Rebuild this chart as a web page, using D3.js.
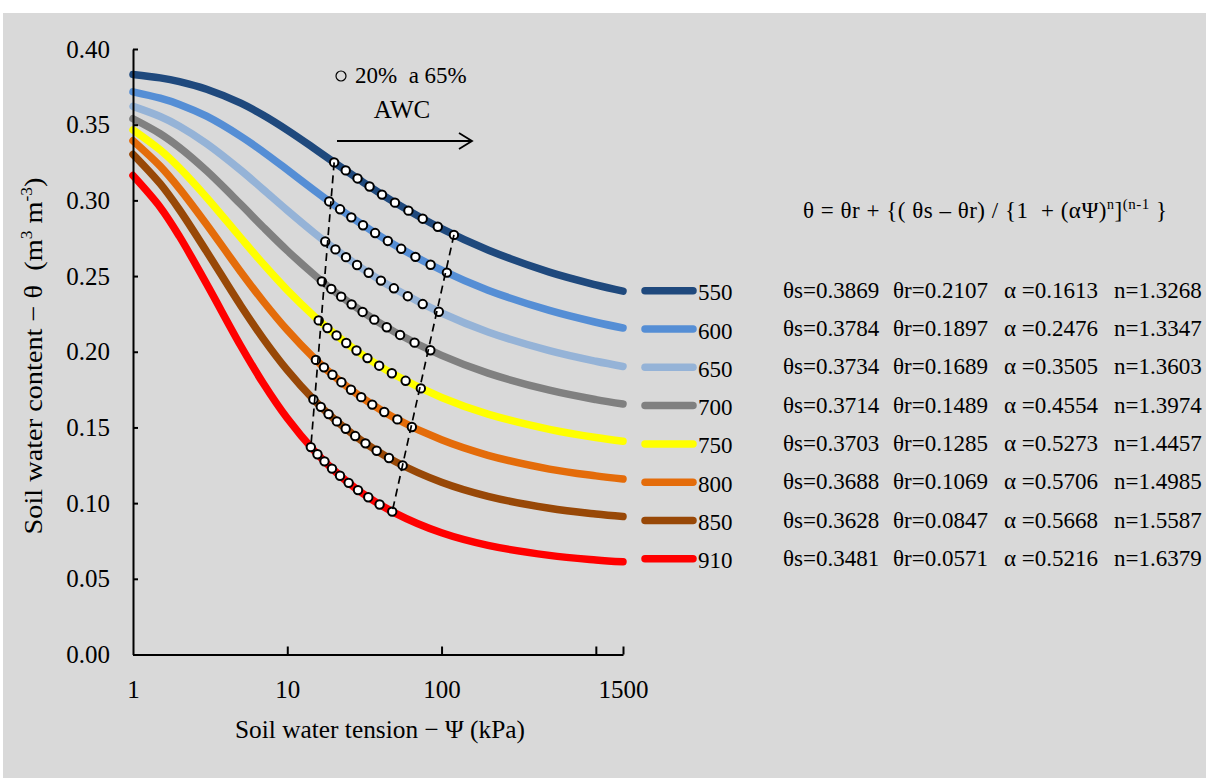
<!DOCTYPE html>
<html><head><meta charset="utf-8">
<script src="https://cdn.jsdelivr.net/npm/d3@7"></script>
<style>
body{margin:0;background:#fff;}
svg{display:block;}
text{white-space:pre;fill:#000;font-family:"Liberation Serif","Times New Roman",serif;}
</style></head><body>
<svg id="chart" width="1206" height="781"></svg>
<script>
// ---- data ----
const psi = [1, 1.5, 2, 3, 5, 7, 10, 15, 20, 30, 50, 100, 200, 500, 1000, 1500];
const theta550 = [0.3832, 0.3809, 0.3784, 0.3734, 0.3642, 0.3562, 0.3464, 0.3342, 0.3253, 0.3130, 0.2985, 0.2813, 0.2672, 0.2526, 0.2442, 0.2400];
const theta600 = [0.3717, 0.3675, 0.3634, 0.3556, 0.3423, 0.3320, 0.3202, 0.3065, 0.2971, 0.2846, 0.2703, 0.2539, 0.2407, 0.2273, 0.2195, 0.2157];
const theta650 = [0.3621, 0.3554, 0.3490, 0.3375, 0.3199, 0.3071, 0.2934, 0.2784, 0.2685, 0.2556, 0.2414, 0.2256, 0.2131, 0.2007, 0.1937, 0.1903];
const theta700 = [0.3539, 0.3440, 0.3349, 0.3195, 0.2973, 0.2822, 0.2668, 0.2507, 0.2402, 0.2271, 0.2129, 0.1976, 0.1859, 0.1746, 0.1684, 0.1655];
const theta750 = [0.3466, 0.3333, 0.3214, 0.3019, 0.2752, 0.2579, 0.2407, 0.2233, 0.2123, 0.1987, 0.1846, 0.1698, 0.1588, 0.1487, 0.1433, 0.1409];
const theta800 = [0.3394, 0.3226, 0.3078, 0.2841, 0.2527, 0.2332, 0.2143, 0.1955, 0.1840, 0.1702, 0.1561, 0.1418, 0.1316, 0.1225, 0.1180, 0.1159];
const theta850 = [0.3304, 0.3110, 0.2938, 0.2662, 0.2304, 0.2085, 0.1878, 0.1678, 0.1558, 0.1416, 0.1275, 0.1138, 0.1045, 0.0966, 0.0928, 0.0911];
const theta910 = [0.3164, 0.2955, 0.2762, 0.2448, 0.2038, 0.1790, 0.1560, 0.1344, 0.1218, 0.1072, 0.0934, 0.0804, 0.0721, 0.0655, 0.0625, 0.0612];

// AWC markers (20% .. 65%)
const mPsi550 = [20.13, 23.93, 28.53, 34.15, 41.12, 49.87, 61.0, 75.5, 94.5, 120.3];
const mTh550  = [0.3251, 0.3198, 0.3145, 0.3092, 0.3038, 0.2985, 0.2932, 0.2879, 0.2826, 0.2772];
const mPsi600 = [18.69, 21.99, 26.01, 30.96, 37.10, 44.85, 54.75, 67.7, 84.9, 108.3];
const mTh600  = [0.2993, 0.2941, 0.2888, 0.2836, 0.2784, 0.2732, 0.2680, 0.2627, 0.2575, 0.2523];
const mPsi650 = [17.62, 20.52, 24.02, 28.33, 33.69, 40.45, 49.12, 60.4, 75.5, 96.0];
const mTh650  = [0.2728, 0.2676, 0.2625, 0.2573, 0.2522, 0.2470, 0.2419, 0.2367, 0.2315, 0.2264];
const mPsi700 = [16.75, 19.29, 22.36, 26.12, 30.78, 36.64, 44.12, 53.85, 66.84, 84.6];
const mTh700  = [0.2465, 0.2415, 0.2364, 0.2313, 0.2263, 0.2212, 0.2162, 0.2111, 0.2060, 0.2010];
const mPsi750 = [15.98, 18.20, 20.86, 24.11, 28.09, 33.08, 39.42, 47.63, 58.5, 73.4];
const mTh750  = [0.2207, 0.2157, 0.2108, 0.2058, 0.2008, 0.1958, 0.1908, 0.1858, 0.1808, 0.1758];
const mPsi800 = [15.33, 17.28, 19.62, 22.43, 25.88, 30.15, 35.55, 42.52, 51.7, 64.2];
const mTh800  = [0.1946, 0.1897, 0.1848, 0.1799, 0.1749, 0.1700, 0.1651, 0.1602, 0.1553, 0.1503];
const mPsi850 = [14.77, 16.49, 18.52, 20.96, 23.92, 27.56, 32.13, 37.97, 45.63, 55.96];
const mTh850  = [0.1685, 0.1636, 0.1588, 0.1540, 0.1491, 0.1443, 0.1395, 0.1346, 0.1298, 0.1249];
const mPsi910 = [14.21, 15.69, 17.43, 19.49, 21.97, 25.00, 28.74, 33.50, 39.67, 47.89];
const mTh910  = [0.1370, 0.1323, 0.1276, 0.1228, 0.1181, 0.1134, 0.1086, 0.1039, 0.0991, 0.0944];

const seriesNames = ["550", "600", "650", "700", "750", "800", "850", "910"];
const seriesColors = ["#1f497d", "#558ed5", "#95b3d7", "#808080", "#ffff00", "#e46c0a", "#984807", "#ff0000"];
const thetaS = ["0.3869", "0.3784", "0.3734", "0.3714", "0.3703", "0.3688", "0.3628", "0.3481"];
const thetaR = ["0.2107", "0.1897", "0.1689", "0.1489", "0.1285", "0.1069", "0.0847", "0.0571"];
const alphaP = ["0.1613", "0.2476", "0.3505", "0.4554", "0.5273", "0.5706", "0.5668", "0.5216"];
const nP     = ["1.3268", "1.3347", "1.3603", "1.3974", "1.4457", "1.4985", "1.5587", "1.6379"];

const xTickMarks = [10, 100, 1000, 1500];
const xTickLabels = [1, 10, 100, 1500];
const yTicks = [0, 0.05, 0.10, 0.15, 0.20, 0.25, 0.30, 0.35, 0.40];

// ---- build ----
const curves = [theta550, theta600, theta650, theta700, theta750, theta800, theta850, theta910];
const mPsi = [mPsi550, mPsi600, mPsi650, mPsi700, mPsi750, mPsi800, mPsi850, mPsi910];
const mTh = [mTh550, mTh600, mTh650, mTh700, mTh750, mTh800, mTh850, mTh910];

const svg = d3.select("#chart");
svg.append("rect").attr("x", 3).attr("y", 13).attr("width", 1203).attr("height", 765).attr("fill", "#d9d9d9");

const x = d3.scaleLog().domain([1, 1500]).range([133, 623]);
const y = d3.scaleLinear().domain([0, 0.40]).range([654.5, 49]);

// curves
const line = d3.line().x(d => x(d[0])).y(d => y(d[1])).curve(d3.curveCatmullRom.alpha(0.5));
const gCurves = svg.append("g");
curves.forEach((c, i) => {
  gCurves.append("path")
    .attr("d", line(psi.map((p, j) => [p, c[j]])))
    .attr("fill", "none").attr("stroke", seriesColors[i])
    .attr("stroke-width", 7.5).attr("stroke-linecap", "round");
});

// axes
const yAxis = d3.axisLeft(y).tickValues(yTicks).tickFormat(d3.format(".2f"))
  .tickSizeInner(-5).tickSizeOuter(0).tickPadding(23);
const gy = svg.append("g").attr("transform", "translate(133,0)").call(yAxis);
gy.selectAll("text").attr("font-size", 25);
gy.selectAll("line,path").attr("stroke", "#000").attr("stroke-width", 2);

const xAxis = d3.axisBottom(x).tickValues(xTickMarks).tickFormat("")
  .tickSizeInner(-8).tickSizeOuter(0);
const gx = svg.append("g").attr("transform", "translate(0,654.5)").call(xAxis);
gx.selectAll("line,path").attr("stroke", "#000").attr("stroke-width", 2);

const xLab = d3.axisBottom(x).tickValues(xTickLabels).tickFormat(d3.format("d"))
  .tickSize(0).tickPadding(26);
const gxl = svg.append("g").attr("transform", "translate(0,654.5)").call(xLab);
gxl.select(".domain").remove();
gxl.selectAll("text").attr("font-size", 25);

// markers
const gM = svg.append("g");
mPsi.forEach((arr, i) => {
  arr.forEach((p, j) => {
    gM.append("circle").attr("cx", x(p)).attr("cy", y(mTh[i][j])).attr("r", 4.2)
      .attr("fill", "#fff").attr("stroke", "#000").attr("stroke-width", 2);
  });
});

// dashed AWC boundaries
const first = mPsi.map((a, i) => [a[0], mTh[i][0]]);
const last = mPsi.map((a, i) => [a[a.length - 1], mTh[i][a.length - 1]]);
[first, last].forEach(pts => {
  const a = pts[0], b = pts[pts.length - 1];
  svg.append("line").attr("x1", x(a[0])).attr("y1", y(a[1])).attr("x2", x(b[0])).attr("y2", y(b[1]))
    .attr("stroke", "#000").attr("stroke-width", 1.7).attr("stroke-dasharray", "8,5");
});

// legend + parameters
const legY0 = 290.7, legDy = 38.3;
seriesNames.forEach((nm, i) => {
  const ly = legY0 + i * legDy;
  svg.append("line").attr("x1", 645).attr("x2", 693).attr("y1", ly).attr("y2", ly)
    .attr("stroke", seriesColors[i]).attr("stroke-width", 7.5).attr("stroke-linecap", "round");
  svg.append("text").attr("x", 698).attr("y", ly + 9.5).attr("font-size", 23).text(nm);
  const ty = ly + 7;
  svg.append("text").attr("x", 783).attr("y", ty).attr("font-size", 23).text("θs=" + thetaS[i]);
  svg.append("text").attr("x", 893).attr("y", ty).attr("font-size", 23).text("θr=" + thetaR[i]);
  svg.append("text").attr("x", 1004).attr("y", ty).attr("font-size", 23).text("α =" + alphaP[i]);
  svg.append("text").attr("x", 1114).attr("y", ty).attr("font-size", 23).text("n=" + nP[i]);
});

// formula
const f = svg.append("text").attr("x", 803).attr("y", 218).attr("font-size", 23)
  .attr("textLength", 364).attr("lengthAdjust", "spacing");
f.append("tspan").text("θ = θr + {( θs – θr) / {1  + (αΨ)");
f.append("tspan").attr("font-size", 14).attr("dy", -9).text("n");
f.append("tspan").attr("dy", 9).text("]");
f.append("tspan").attr("font-size", 15).attr("dy", -9).text("(n-1");
f.append("tspan").attr("dy", 9).text(" }");

// annotation
svg.append("circle").attr("cx", 341).attr("cy", 76).attr("r", 5).attr("fill", "none")
  .attr("stroke", "#000").attr("stroke-width", 1.2);
svg.append("text").attr("x", 355).attr("y", 83).attr("font-size", 23).text("20%  a 65%");
svg.append("text").attr("x", 402).attr("y", 118).attr("font-size", 25).attr("text-anchor", "middle").text("AWC");
svg.append("line").attr("x1", 337).attr("x2", 471).attr("y1", 141).attr("y2", 141)
  .attr("stroke", "#000").attr("stroke-width", 1.8);
svg.append("path").attr("d", "M459,133 L472,141 L459,149").attr("fill", "none")
  .attr("stroke", "#000").attr("stroke-width", 1.8);

// axis titles
svg.append("text").attr("x", 380).attr("y", 738).attr("font-size", 26).attr("text-anchor", "middle")
  .attr("textLength", 290).attr("lengthAdjust", "spacingAndGlyphs")
  .text("Soil water tension − Ψ (kPa)");
const yt = svg.append("text").attr("transform", "translate(42,356) rotate(-90)")
  .attr("font-size", 26).attr("text-anchor", "middle")
  .attr("textLength", 357).attr("lengthAdjust", "spacingAndGlyphs");
yt.append("tspan").text("Soil water content − θ  (m");
yt.append("tspan").attr("font-size", 16).attr("dy", -10).text("3");
yt.append("tspan").attr("dy", 10).text(" m");
yt.append("tspan").attr("font-size", 16).attr("dy", -10).text("-3");
yt.append("tspan").attr("dy", 10).text(")");
</script></body></html>
